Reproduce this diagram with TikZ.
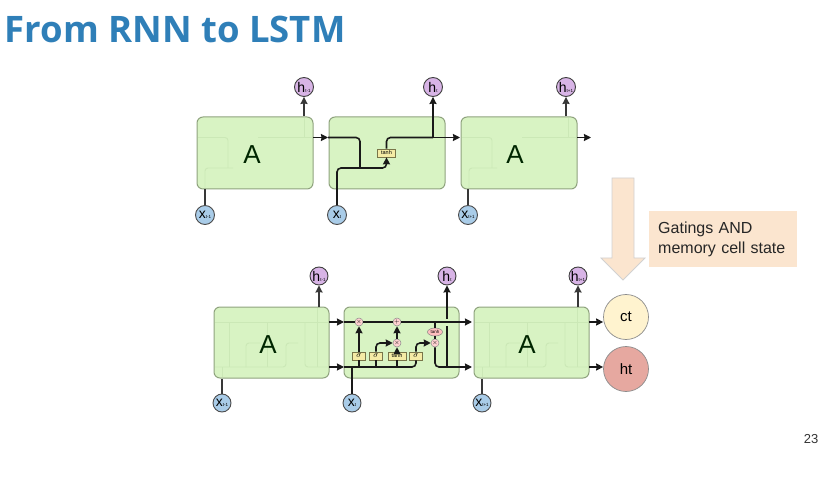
\documentclass[tikz,border=0pt]{standalone}
\usepackage{fontspec}
\setmainfont{Liberation Sans}
\newfontfamily\titlefont{Open Sans}
\usetikzlibrary{arrows.meta,positioning,shapes.geometric}

\definecolor{cellgreen}{HTML}{D8F3C3}
\definecolor{celledge}{HTML}{8FA37E}
\definecolor{ghostline}{HTML}{CBE8B6}
\definecolor{hpurple}{HTML}{D8B4E6}
\definecolor{xblue}{HTML}{A9CCE8}
\definecolor{gateyellow}{HTML}{F5EBA5}
\definecolor{peach}{HTML}{FBE5CF}
\definecolor{titleblue}{HTML}{2F7FB8}
\definecolor{ctfill}{HTML}{FFF3CF}
\definecolor{htfill}{HTML}{E6A8A0}

\newcommand{\sublabel}[2]{#1{\fontsize{4.5}{4.5}\selectfont #2}}

\tikzset{
  >={Stealth[length=7pt,width=7pt,inset=0.5pt]},
  cell/.style={draw=celledge,fill=cellgreen,line width=1pt,rounded corners=6pt,minimum height=72pt},
  topcell/.style={cell,minimum width=116pt},
  lowcell/.style={cell,minimum width=115pt,minimum height=71pt},
  letter/.style={font=\fontsize{26}{26}\selectfont,text=black!85!green},
  outcircle/.style={circle,draw=black!75,fill=hpurple,line width=.9pt,inner sep=0pt,minimum size=19pt,font=\fontsize{14}{14}\selectfont},
  incircle/.style={circle,draw=black!70,fill=xblue,line width=.9pt,inner sep=0pt,minimum size=19pt,font=\fontsize{14}{14}\selectfont},
  gate/.style={rectangle,draw=black!60!yellow,fill=gateyellow,line width=.7pt,inner sep=0pt,minimum height=8pt,font=\fontsize{5.5}{5.5}\selectfont},
  oper/.style={circle,draw=black!45,fill=red!18,line width=.5pt,inner sep=0pt,minimum size=8pt,font=\fontsize{6}{6}\selectfont},
  squash/.style={ellipse,draw=black!50,fill=red!25,line width=.5pt,inner sep=0pt,minimum width=15pt,minimum height=8pt,font=\fontsize{4.5}{4.5}\selectfont},
  state/.style={circle,draw=black!45,line width=.7pt,inner sep=0pt,minimum size=45pt,font=\fontsize{15}{15}\selectfont},
  flow/.style={->,line width=1.6pt,black!90,rounded corners=4pt},
  flowplain/.style={line width=1.6pt,black!90,rounded corners=4pt},
  stub/.style={line width=1.6pt,black!78},
  ghost/.style={ghostline,line width=.9pt,rounded corners=3pt}
}

\begin{document}
\begin{tikzpicture}[x=1pt,y=-1pt,node distance=132pt]
  \useasboundingbox (0,0) rectangle (835,478);

  \node[anchor=west,text=titleblue,font=\titlefont\bfseries\fontsize{36.5}{36.5}\selectfont] (title) at (1,29) {From RNN to LSTM};
  \node[font=\fontsize{13}{13}\selectfont,text=black!80] (pagenum) at (811,439) {23};

  % upper row
  \node[topcell]           (R1) at (255,153) {};
  \node[topcell]           (R2) [right of=R1] {};
  \node[topcell]           (R3) [right of=R2] {};

  \foreach \dx in {0,264} {
    \begin{scope}[xshift=\dx pt]
      \draw[ghost] (198,137.5) -- (228,137.5) -- (228,168);
      \draw[ghost] (205,188) -- (205,168) -- (233,168);
      \draw[ghost] (258,137.5) -- (312,137.5);
      \draw[ghost] (304,118) -- (304,137.5);
    \end{scope}
  }
  \node[letter] (R1text) at (252,155) {A};
  \node[letter] (R3text) at (515,155) {A};

  \node[outcircle] (h1) at (304,87)  {\sublabel{h}{t-1}};
  \node[outcircle] (h2) at (433,87)  {\sublabel{h}{t}};
  \node[outcircle] (h3) at (566,87)  {\sublabel{h}{t+1}};
  \node[incircle]  (x1) at (205,215) {\sublabel{x}{t-1}};
  \node[incircle]  (x2) at (337,215) {\sublabel{x}{t}};
  \node[incircle]  (x3) at (468,215) {\sublabel{x}{t+1}};
  \node[gate,minimum width=18pt] (tanhR) at (386.5,153) {tanh};

  \coordinate (r1out) at (313,137.5);
  \coordinate (r1head) at (328,137.5);
  \coordinate (r2mid) at (360,168);
  \coordinate (r2in)  at (337,168);
  \coordinate (r2top) at (386.5,137.5);
  \coordinate (r2fork) at (433,137.5);
  \coordinate (r2out) at (460,137.5);
  \coordinate (r3out) at (577,137.5);
  \coordinate (r3end) at (591,137.5);

  \draw[flow] (r1out) -- (r1head);
  \draw[flowplain] (r1head) -- (360,137.5) -- (r2mid);
  \draw[flow] (x2) -- (r2in) -- (386.5,168) -- (tanhR);
  \draw[flowplain] (tanhR) -- (r2top) -- (r2fork);
  \draw[flow] (r2fork) -- (r2out);
  \draw[flow,rounded corners=0pt] (r2fork) -- (h2);
  \draw[flow] (r3out) -- (r3end);
  \draw[stub,->] (R1.north -| h1) -- (h1);
  \draw[stub,->] (R3.north -| h3) -- (h3);
  \draw[stub] (x1) -- (R1.south -| x1);
  \draw[stub] (x3) -- (R3.south -| x3);

  % lower row
  \node[lowcell]           (L1) at (271.5,342.5) {};
  \node[lowcell]           (L2) [right of=L1,node distance=130pt] {};
  \node[lowcell]           (L3) [right of=L2,node distance=130pt] {};

  \foreach \dx in {-130,130} {
    \begin{scope}[xshift=\dx pt]
      \draw[ghost] (345,322) -- (458,322);
      \draw[ghost] (345,367) -- (416,367) -- (416,343) -- (428,343);
      \draw[ghost] (359,322) -- (359,367);
      \draw[ghost] (376,367) -- (376,343) -- (390,343);
      \draw[ghost] (397,322) -- (397,367);
      \draw[ghost] (435,322) -- (435,367) -- (458,367);
      \draw[ghost] (447,308) -- (447,367);
      \draw[ghost] (352,377) -- (352,367);
    \end{scope}
  }
  \node[letter] (L1text) at (268,345) {A};
  \node[letter] (L3text) at (527,345) {A};

  \node[outcircle,minimum size=18pt] (h4) at (319,276) {\sublabel{h}{t-1}};
  \node[outcircle,minimum size=18pt] (h5) at (447,276) {\sublabel{h}{t}};
  \node[outcircle,minimum size=18pt] (h6) at (578,276) {\sublabel{h}{t+1}};
  \node[incircle,minimum size=18pt]  (x4) at (222,403) {\sublabel{x}{t-1}};
  \node[incircle,minimum size=18pt]  (x5) at (352,403) {\sublabel{x}{t}};
  \node[incircle,minimum size=18pt]  (x6) at (482,403) {\sublabel{x}{t+1}};

  \node[gate,minimum width=13pt,font=\fontsize{8}{8}\selectfont] (sig1) at (359,356) {$\sigma$};
  \node[gate,minimum width=13pt,font=\fontsize{8}{8}\selectfont] (sig2) at (376,356) {$\sigma$};
  \node[gate,minimum width=18pt] (tanhL) at (397,356) {tanh};
  \node[gate,minimum width=13pt,font=\fontsize{8}{8}\selectfont] (sig3) at (416,356) {$\sigma$};
  \node[oper] (mul1) at (359,322) {$\times$};
  \node[oper] (add1) at (397,322) {$+$};
  \node[oper] (mul2) at (397,343) {$\times$};
  \node[squash] (tanhT) at (435,332) {tanh};
  \node[oper] (mul3) at (435,343) {$\times$};

  \coordinate (celltop)  at (329,322);
  \coordinate (cellout)  at (344,322);
  \coordinate (hidden)   at (329,367);
  \coordinate (hiddenin) at (344,367);
  \coordinate (topout)   at (472,322);
  \coordinate (lowout)   at (472,367);
  \coordinate (join)     at (447,367);
  \coordinate (ctout)    at (589,322);
  \coordinate (htout)    at (589,367);

  \draw[flow] (celltop) -- (cellout);
  \draw[flow] (hidden) -- (hiddenin);
  \draw[flowplain] (cellout) -- (mul1);
  \draw[flowplain] (mul1) -- (add1);
  \draw[flow] (add1) -- (topout);
  \draw[flowplain] (hiddenin) -- (416,367) -- (sig3);
  \draw[flow] (sig1) -- (mul1);
  \draw[flowplain] (sig1 |- hidden) -- (sig1);
  \draw[flowplain] (sig2 |- hidden) -- (sig2);
  \draw[flow] (sig2) -- (376,343) -- (mul2);
  \draw[flowplain] (tanhL |- hidden) -- (tanhL);
  \draw[flow] (tanhL) -- (mul2);
  \draw[flow] (mul2) -- (add1);
  \draw[flow] (sig3) -- (416,343) -- (mul3);
  \draw[flowplain] (435,322) -- (tanhT) -- (mul3);
  \draw[flow] (mul3) -- (435,367) -- (lowout);
  \draw[flowplain,rounded corners=0pt] (join) -- (447,325.5);
  \draw[flow,rounded corners=0pt] (447,318.5) -- (h5);
  \draw[flowplain,rounded corners=0pt] (x5) -- (352,367);
  \draw[stub,->] (L1.north -| h4) -- (h4);
  \draw[stub,->] (L3.north -| h6) -- (h6);
  \draw[stub] (x4) -- (L1.south -| x4);
  \draw[stub] (x6) -- (L3.south -| x6);

  % outputs on the right
  \node[state,fill=ctfill] (ct) at (626,317) {ct};
  \node[state,fill=htfill] (ht) at (626,369) {ht};
  \draw[flow] (ctout) -- (ct.west |- ctout);
  \draw[flow] (htout) -- (ht.west |- htout);

  % wide arrow down to the two states
  \draw[draw=black!18,fill=peach,line width=.8pt] (612,178) -- (634,178) -- (634,258) -- (645,258)
       -- (623,280) -- (601,258) -- (612,258) -- cycle;
  \node[fill=peach,anchor=north west,minimum width=148pt,minimum height=56pt,inner sep=0pt,
        align=left,text width=130pt,font=\fontsize{16}{20}\selectfont,text=black!85] (gatenote) at (649,211)
       {Gatings AND\\memory cell state};
\end{tikzpicture}
\end{document}
